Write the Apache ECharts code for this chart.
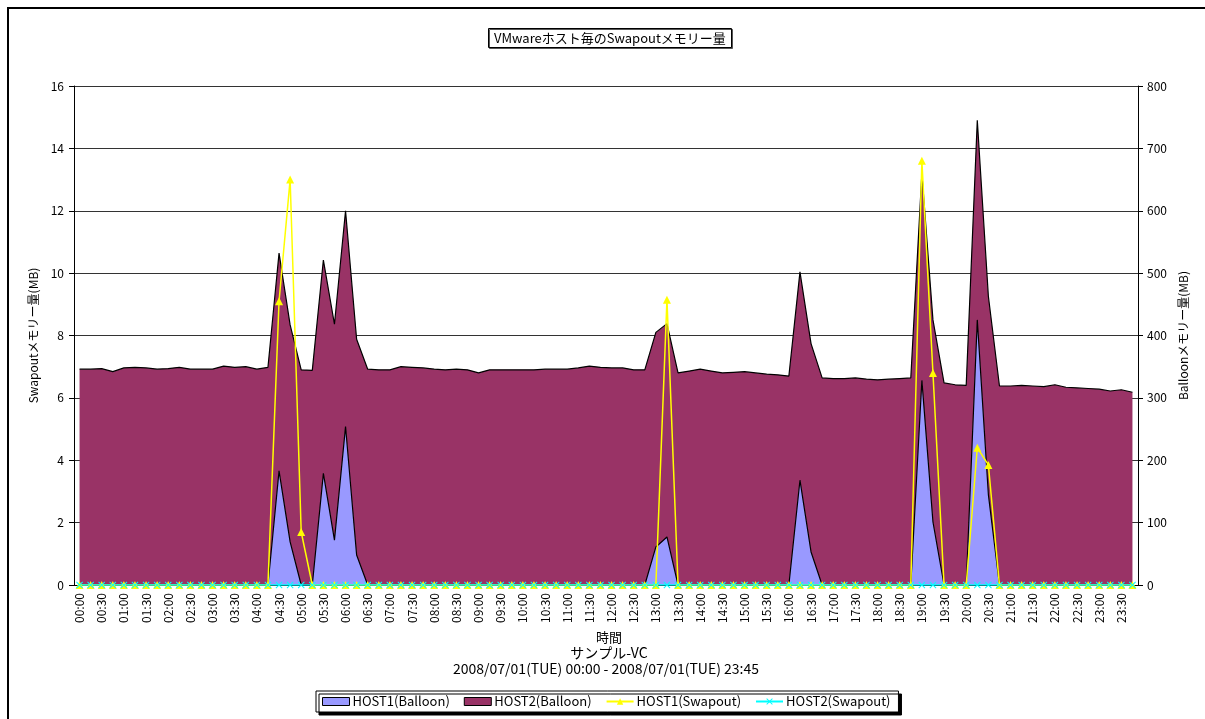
<!DOCTYPE html>
<html>
<head>
<meta charset="utf-8">
<title>VMwareホスト毎のSwapoutメモリー量</title>
<script src="https://cdn.jsdelivr.net/npm/echarts@6/dist/echarts.min.js"></script>
<style>
  html, body { margin: 0; padding: 0; background: #fff; }
  #chart { width: 1205px; height: 719px; }
</style>
</head>
<body>
<div id="chart"></div>
<script>
// 15分間隔の時刻ラベル 00:00 - 23:45
var times = [];
for (var h = 0; h < 24; h++) {
  for (var m = 0; m < 60; m += 15) {
    times.push((h < 10 ? '0' : '') + h + ':' + (m < 10 ? '0' : '') + m);
  }
}

// Balloon (MB) 右軸
var host1Balloon = [
  0, 0, 0, 0, 0, 0, 0, 0, 0, 0, 0, 0, 0, 0, 0, 0,
  0, 0, 183, 69, 0, 0, 179, 72, 254, 48, 0, 0, 0, 0, 0, 0,
  0, 0, 0, 0, 0, 0, 0, 0, 0, 0, 0, 0, 0, 0, 0, 0,
  0, 0, 0, 0, 61, 77, 0, 0, 0, 0, 0, 0, 0, 0, 0, 0,
  0, 168, 53, 0, 0, 0, 0, 0, 0, 0, 0, 0, 328, 101, 0, 0,
  0, 425, 145, 0, 0, 0, 0, 0, 0, 0, 0, 0, 0, 0, 0, 0
];
var host2Balloon = [
  346, 346, 347, 342, 348, 349, 348, 346, 347, 349, 346, 346, 346, 351, 349, 350,
  346, 349, 349, 348, 345, 344, 342, 346, 346, 346, 346, 345, 345, 350, 349, 348,
  346, 345, 346, 345, 340, 345, 345, 345, 345, 345, 346, 346, 346, 348, 351, 349,
  348, 348, 345, 345, 344, 342, 340, 343, 346, 343, 340, 341, 342, 340, 338, 337,
  335, 334, 334, 332, 331, 331, 332, 330, 329, 330, 331, 332, 332, 324, 324, 321,
  320, 320, 318, 319, 319, 320, 319, 318, 321, 317, 316, 315, 314, 311, 313, 309
];

// Swapout (MB) 左軸
var host1Swapout = [
  0, 0, 0, 0, 0, 0, 0, 0, 0, 0, 0, 0, 0, 0, 0, 0,
  0, 0, 9.1, 13.0, 1.7, 0, 0, 0, 0, 0, 0, 0, 0, 0, 0, 0,
  0, 0, 0, 0, 0, 0, 0, 0, 0, 0, 0, 0, 0, 0, 0, 0,
  0, 0, 0, 0, 0, 9.15, 0, 0, 0, 0, 0, 0, 0, 0, 0, 0,
  0, 0, 0, 0, 0, 0, 0, 0, 0, 0, 0, 0, 13.6, 6.8, 0, 0,
  0, 4.4, 3.85, 0, 0, 0, 0, 0, 0, 0, 0, 0, 0, 0, 0, 0
];
var host2Swapout = [
  0, 0, 0, 0, 0, 0, 0, 0, 0, 0, 0, 0, 0, 0, 0, 0,
  0, 0, 0, 0, 0, 0, 0, 0, 0, 0, 0, 0, 0, 0, 0, 0,
  0, 0, 0, 0, 0, 0, 0, 0, 0, 0, 0, 0, 0, 0, 0, 0,
  0, 0, 0, 0, 0, 0, 0, 0, 0, 0, 0, 0, 0, 0, 0, 0,
  0, 0, 0, 0, 0, 0, 0, 0, 0, 0, 0, 0, 0, 0, 0, 0,
  0, 0, 0, 0, 0, 0, 0, 0, 0, 0, 0, 0, 0, 0, 0, 0
];

var FONT = '"Noto Sans CJK JP", "Noto Sans", sans-serif';
var crossPath = 'path://M0,1L1,0L5,4L9,0L10,1L6,5L10,9L9,10L5,6L1,10L0,9L4,5Z';

var chart = echarts.init(document.getElementById('chart'));

var option = {
  backgroundColor: '#fff',
  textStyle: { fontFamily: FONT, color: '#000' },
  animation: false,
  title: {
    text: 'VMwareホスト毎のSwapoutメモリー量',
    left: 488,
    top: 28,
    padding: [4, 6, 3, 6],
    borderColor: '#000',
    borderWidth: 1,
    backgroundColor: '#fff',
    shadowColor: '#555',
    shadowOffsetX: 1,
    shadowOffsetY: 1,
    textStyle: { fontSize: 13, fontWeight: 'normal', color: '#000', fontFamily: FONT }
  },
  graphic: [
    {
      type: 'rect',
      shape: { x: 8, y: 8, width: 1300, height: 800 },
      style: { fill: 'none', stroke: '#000', lineWidth: 2 },
      silent: true
    },
    {
      type: 'text', x: 609, y: 631,
      style: { text: '時間', align: 'center', fill: '#000', font: '13px ' + FONT }
    },
    {
      type: 'text', x: 609, y: 646,
      style: { text: 'サンプル-VC', align: 'center', fill: '#000', font: '14px ' + FONT }
    },
    {
      type: 'text', x: 606, y: 662,
      style: { text: '2008/07/01(TUE) 00:00 - 2008/07/01(TUE) 23:45', align: 'center', fill: '#000', font: '14px ' + FONT }
    }
  ],
  legend: {
    left: 316,
    top: 691,
    padding: [4, 8, 4, 6],
    itemGap: 14,
    itemWidth: 27,
    itemHeight: 8,
    borderColor: '#000',
    borderWidth: 1,
    backgroundColor: '#fff',
    shadowColor: '#000',
    shadowOffsetX: 3,
    shadowOffsetY: 3,
    textStyle: { fontSize: 13, color: '#000', fontFamily: FONT, padding: [0, 0, 0, -2] },
    data: [
      { name: 'HOST1(Balloon)', icon: 'rect', itemStyle: { color: '#9999FF', borderColor: '#000', borderWidth: 1 } },
      { name: 'HOST2(Balloon)', icon: 'rect', itemStyle: { color: '#993366', borderColor: '#000', borderWidth: 1 } },
      { name: 'HOST1(Swapout)' },
      { name: 'HOST2(Swapout)' }
    ]
  },
  grid: { left: 74, right: 67, top: 86, bottom: 134 },
  xAxis: {
    type: 'category',
    data: times,
    boundaryGap: true,
    axisLine: { lineStyle: { color: '#000', width: 1 } },
    axisTick: { show: true, inside: true, length: 4, interval: 0, lineStyle: { color: '#000' } },
    axisLabel: { rotate: 90, interval: 1, fontSize: 12, color: '#000', margin: 8, fontFamily: FONT },
    splitLine: { show: false }
  },
  yAxis: [
    {
      type: 'value',
      min: 0, max: 16, interval: 2,
      name: 'Swapoutメモリー量(MB)',
      nameLocation: 'middle',
      nameGap: 32,
      nameRotate: 90,
      nameTextStyle: { fontSize: 12, color: '#000', fontFamily: FONT },
      axisLine: { show: true, lineStyle: { color: '#000' } },
      axisTick: { show: true, length: 5, lineStyle: { color: '#000' } },
      axisLabel: { fontSize: 12, color: '#000', margin: 10, fontFamily: FONT },
      splitLine: { show: true, lineStyle: { color: '#333', width: 1 } }
    },
    {
      type: 'value',
      min: 0, max: 800, interval: 100,
      name: 'Balloonメモリー量(MB)',
      nameLocation: 'middle',
      nameGap: 38,
      nameRotate: 90,
      nameTextStyle: { fontSize: 12, color: '#000', fontFamily: FONT },
      axisLine: { show: true, lineStyle: { color: '#000' } },
      axisTick: { show: true, length: 5, lineStyle: { color: '#000' } },
      axisLabel: { fontSize: 12, color: '#000', margin: 9, fontFamily: FONT },
      splitLine: { show: false }
    }
  ],
  series: [
    {
      name: 'HOST1(Balloon)',
      type: 'line',
      stack: 'balloon',
      yAxisIndex: 1,
      symbol: 'none',
      itemStyle: { color: '#9999FF' },
      lineStyle: { color: '#000', width: 1.2 },
      areaStyle: { color: '#9999FF', opacity: 1 },
      data: host1Balloon
    },
    {
      name: 'HOST2(Balloon)',
      type: 'line',
      stack: 'balloon',
      yAxisIndex: 1,
      symbol: 'none',
      itemStyle: { color: '#993366' },
      lineStyle: { color: '#000', width: 1.2 },
      areaStyle: { color: '#993366', opacity: 1 },
      data: host2Balloon
    },
    {
      name: 'HOST1(Swapout)',
      type: 'line',
      yAxisIndex: 0,
      symbol: 'triangle',
      symbolSize: 8,
      showAllSymbol: true,
      itemStyle: { color: '#FFFF00' },
      lineStyle: { color: '#FFFF00', width: 1.5 },
      data: host1Swapout
    },
    {
      name: 'HOST2(Swapout)',
      type: 'line',
      yAxisIndex: 0,
      symbol: crossPath,
      symbolSize: 7,
      showAllSymbol: true,
      itemStyle: { color: '#00FFFF' },
      lineStyle: { color: '#00FFFF', width: 1.5 },
      data: host2Swapout
    }
  ]
};

chart.setOption(option);
</script>
</body>
</html>
